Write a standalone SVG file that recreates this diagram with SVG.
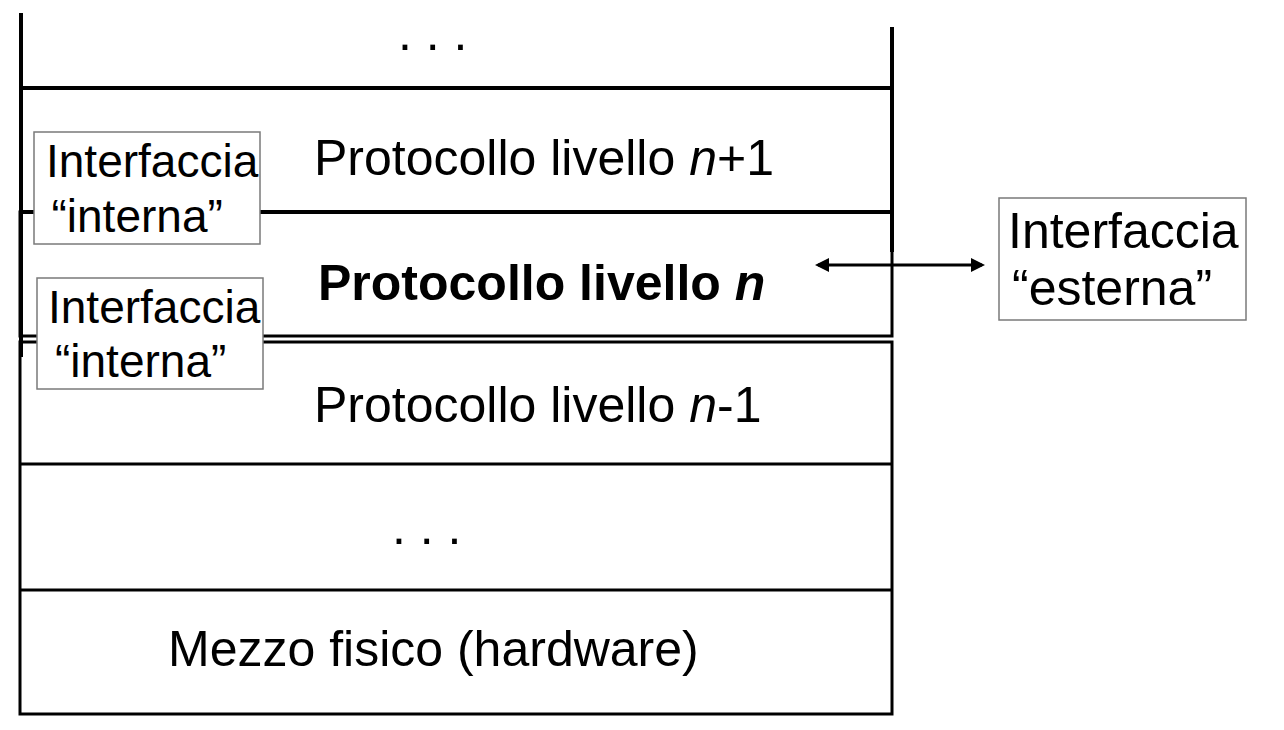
<svg xmlns="http://www.w3.org/2000/svg" width="1284" height="730" viewBox="0 0 1284 730">
<style>
.t{font-family:"Liberation Sans",Arial,sans-serif;font-size:50px;fill:#000}
.ts{font-family:"Liberation Sans",Arial,sans-serif;font-size:46px;fill:#000}
.b{font-weight:bold}
.i{font-style:italic}
.thick{stroke:#000;stroke-width:4;fill:none}
.thin{stroke:#000;stroke-width:3;fill:none}
.lbl{fill:#fff;stroke:#7a7a7a;stroke-width:1.5}
</style>
<defs>
<marker id="ah" viewBox="0 0 14 14" refX="11" refY="7" markerWidth="14" markerHeight="14" markerUnits="userSpaceOnUse" orient="auto-start-reverse">
<path d="M0,0 L14,7 L0,14 z" fill="#000"/>
</marker>
</defs>
<rect width="1284" height="730" fill="#fff"/>
<g id="upper-stack">
<line class="thick" x1="21" y1="13" x2="21" y2="357"/>
<line class="thick" x1="892" y1="27" x2="892" y2="252"/>
<line class="thick" x1="21" y1="88" x2="892" y2="88"/>
<line class="thick" x1="21" y1="212" x2="892" y2="212"/>
<text class="t" x="398" y="50">. . .</text>
<text class="t" x="314" y="175">Protocollo livello <tspan class="i">n</tspan>+1</text>
</g>
<g id="layer-n">
<rect class="thin" x="20" y="212" width="872" height="124"/>
<text class="t b" x="318" y="300">Protocollo livello <tspan class="i">n</tspan></text>
</g>
<g id="lower-stack">
<rect class="thin" x="20" y="342" width="872" height="372"/>
<line class="thin" x1="20" y1="464" x2="892" y2="464"/>
<line class="thin" x1="20" y1="590" x2="892" y2="590"/>
<text class="t" x="314" y="422">Protocollo livello <tspan class="i">n</tspan>-1</text>
<text class="t" x="392" y="544">. . .</text>
<text class="t" x="168" y="666">Mezzo fisico (hardware)</text>
</g>
<g id="interna-1">
<rect class="lbl" x="34" y="132" width="226" height="112"/>
<text class="ts" x="46" y="177">Interfaccia</text>
<text class="ts" x="51.5" y="232">“interna”</text>
</g>
<g id="interna-2">
<rect class="lbl" x="37" y="278" width="226" height="111"/>
<text class="ts" x="48" y="323">Interfaccia</text>
<text class="ts" x="55" y="377">“interna”</text>
</g>
<g id="esterna">
<rect class="lbl" x="999" y="198" width="247" height="122"/>
<text class="t" x="1008" y="248">Interfaccia</text>
<text class="t" x="1012" y="305">“esterna”</text>
</g>
<g id="connectors">
<line x1="818" y1="265" x2="982" y2="265" stroke="#000" stroke-width="3" marker-start="url(#ah)" marker-end="url(#ah)"/>
</g>
</svg>
